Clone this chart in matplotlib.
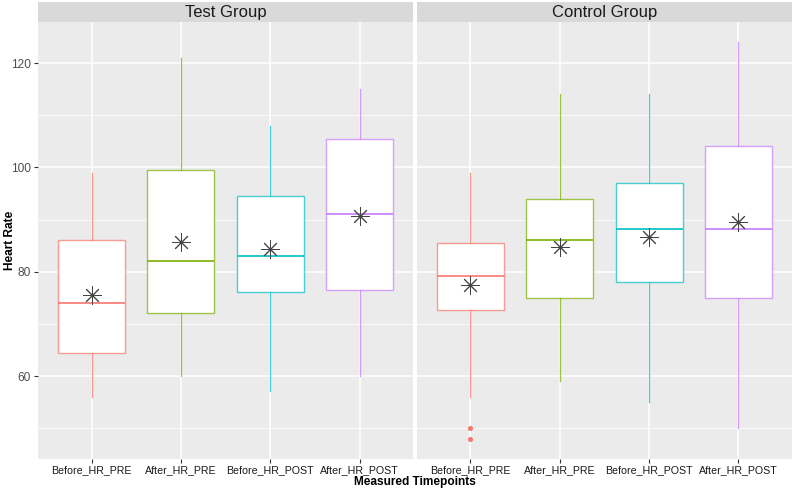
import matplotlib
matplotlib.use("Agg")
import matplotlib.pyplot as plt

plt.rcParams['font.family'] = ['Liberation Sans', 'DejaVu Sans']

groups = ["Test Group", "Control Group"]
timepoints = ["Before_HR_PRE", "After_HR_PRE", "Before_HR_POST", "After_HR_POST"]
colors = ["#F8766D", "#7CAE00", "#00BFC4", "#C77CFF"]

# per group: lists over timepoints
whis_low = {"Test Group": [56.0, 60.0, 57.2, 60.0], "Control Group": [56.0, 59.0, 55.0, 50.0]}
q1 = {"Test Group": [64.4, 72.0, 76.1, 76.5], "Control Group": [72.6, 75.0, 78.0, 75.0]}
median = {"Test Group": [74.0, 82.0, 83.1, 91.0], "Control Group": [79.1, 86.0, 88.1, 88.1]}
q3 = {"Test Group": [86.0, 99.4, 94.5, 105.5], "Control Group": [85.5, 94.0, 97.0, 104.0]}
whis_high = {"Test Group": [99.0, 121.0, 108.0, 115.0], "Control Group": [99.0, 114.0, 114.0, 124.0]}
means = {"Test Group": [75.6, 85.7, 84.4, 90.7], "Control Group": [77.5, 84.8, 86.7, 89.6]}
outliers = {"Test Group": [[], [], [], []], "Control Group": [[50.0, 48.0], [], [], []]}

W, H = 794, 488
fig = plt.figure(figsize=(W / 100, H / 100), dpi=100)

panel_top = 22
panel_bot = 458.5
strip_top = 2
lefts = [38, 416.7]
pw = 375.3

for gi, g in enumerate(groups):
    ax = fig.add_axes([lefts[gi] / W, (H - panel_bot) / H, pw / W, (panel_bot - panel_top) / H])
    ax.set_facecolor("#EBEBEB")
    for s in ax.spines.values():
        s.set_visible(False)

    for i in range(4):
        st = [dict(med=median[g][i], q1=q1[g][i], q3=q3[g][i],
                   whislo=whis_low[g][i], whishi=whis_high[g][i],
                   fliers=outliers[g][i], mean=means[g][i])]
        c = colors[i]
        ax.bxp(st, positions=[i + 1], widths=0.75, showmeans=True, showcaps=False,
               patch_artist=True, manage_ticks=False,
               boxprops=dict(facecolor="white", edgecolor=c, linewidth=1.0),
               whiskerprops=dict(color=c, linewidth=0.9, alpha=0.75),
               medianprops=dict(color=c, linewidth=1.2),
               flierprops=dict(marker="o", markersize=2.6, markerfacecolor=c,
                               markeredgecolor=c),
               meanprops=dict(marker=(8, 2, 0), markersize=13, markeredgecolor="#444444",
                              markeredgewidth=0.7, markerfacecolor="#444444"))
    # lighten box edges a bit
    for p in ax.patches:
        ec = p.get_edgecolor()
        p.set_edgecolor((ec[0], ec[1], ec[2], 0.7))

    ax.set_xlim(0.4, 4.6)
    ax.set_ylim(44.19, 127.86)
    ax.set_yticks([60, 80, 100, 120])
    ax.set_yticks([50, 70, 90, 110], minor=True)
    ax.set_xticks(range(1, 5))
    ax.set_xticklabels(timepoints, fontsize=7.7, color="#1A1A1A")
    ax.grid(True, which="major", color="white", linewidth=1.1)
    ax.grid(True, which="minor", axis="y", color="white", linewidth=0.55)
    ax.set_axisbelow(True)
    ax.tick_params(axis="both", which="major", length=2.75, width=0.8, color="#333333", pad=2.5)
    ax.tick_params(axis="x", which="major", pad=1.8)
    ax.tick_params(axis="y", which="minor", length=0)
    if gi == 0:
        ax.set_yticklabels(["60", "80", "100", "120"], fontsize=8.6, color="#4D4D4D")
    else:
        ax.tick_params(axis="y", which="major", length=0, labelleft=False)

    # strip
    sax = fig.add_axes([lefts[gi] / W, (H - panel_top) / H, pw / W, (panel_top - strip_top) / H])
    sax.set_facecolor("#D9D9D9")
    sax.set_xticks([])
    sax.set_yticks([])
    for s in sax.spines.values():
        s.set_visible(False)
    sax.text(0.5, 0.45, g, ha="center", va="center", fontsize=12, color="#1A1A1A",
             transform=sax.transAxes)

fig.text(10 / W, (H - 240) / H, "Heart Rate", rotation=90, ha="center", va="center",
         fontsize=8.6, fontweight="bold", color="black")
fig.text(415 / W, (H - 482) / H, "Measured Timepoints", ha="center", va="center",
         fontsize=8.6, fontweight="bold", color="black")

fig.savefig("out.png", dpi=100, facecolor="white")
